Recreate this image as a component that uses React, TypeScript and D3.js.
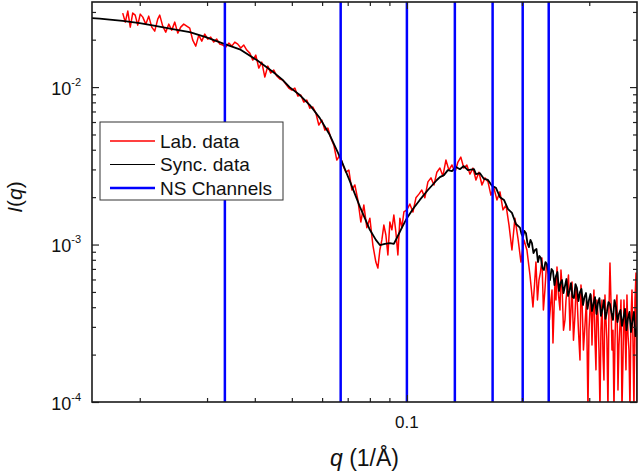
import React, { useEffect, useRef } from 'react';
import * as d3 from 'd3';

// NS channel positions (q, 1/Å)
const channelQ = [0.0334, 0.0671, 0.1, 0.1335, 0.1676, 0.2009, 0.235];

// Lab. data (red): [q, I(q)]
const labData: [number, number][] = [
  [0.01805, 0.0295], [0.01833, 0.02585], [0.01861, 0.03038], [0.01889, 0.02403], [0.01917, 0.0295],
  [0.01946, 0.02864], [0.01976, 0.02474], [0.02006, 0.02906], [0.02037, 0.02782], [0.02074, 0.0251],
  [0.02111, 0.02822], [0.0215, 0.02403], [0.02189, 0.02267], [0.02229, 0.02701], [0.02256, 0.02864],
  [0.02297, 0.02438], [0.02339, 0.02234], [0.02382, 0.0251], [0.02425, 0.023], [0.0247, 0.02585],
  [0.02515, 0.02202], [0.0256, 0.02403], [0.02607, 0.0251], [0.02654, 0.02438], [0.02703, 0.02368],
  [0.02752, 0.01988], [0.02803, 0.01821], [0.02854, 0.02138], [0.02906, 0.01959], [0.02959, 0.02169],
  [0.03013, 0.02017], [0.03067, 0.02076], [0.03123, 0.01931], [0.0318, 0.02017], [0.03239, 0.01875],
  [0.03298, 0.01848], [0.03359, 0.01795], [0.0342, 0.01903], [0.03482, 0.01821], [0.03546, 0.01931],
  [0.0361, 0.01875], [0.03676, 0.01769], [0.03743, 0.01848], [0.03811, 0.01718], [0.03881, 0.01643],
  [0.03952, 0.01484], [0.04024, 0.01596], [0.04097, 0.0132], [0.04172, 0.01441], [0.04249, 0.01158],
  [0.04326, 0.01359], [0.04404, 0.01227], [0.04484, 0.01282], [0.04566, 0.01175], [0.0465, 0.01124],
  [0.04735, 0.01108], [0.04822, 0.01045], [0.04909, 0.00985], [0.05, 0.00957], [0.05091, 0.00985],
  [0.05183, 0.00877], [0.05277, 0.0089], [0.05373, 0.00803], [0.05471, 0.00827], [0.05572, 0.00735],
  [0.05674, 0.00747], [0.05778, 0.00684], [0.05882, 0.00574], [0.0599, 0.00617], [0.061, 0.00533],
  [0.06211, 0.00549], [0.06324, 0.00475], [0.06439, 0.00428], [0.06556, 0.00344], [0.06677, 0.0037],
  [0.06799, 0.0032], [0.06923, 0.00288], [0.07049, 0.00297], [0.07178, 0.00222], [0.07309, 0.00239],
  [0.07442, 0.00192], [0.07577, 0.00139], [0.07715, 0.00178], [0.07855, 0.00128], [0.08, 0.00147],
  [0.08146, 0.000993], [0.08295, 0.000774], [0.08396, 0.000709], [0.08497, 0.000923], [0.08601, 0.00107],
  [0.08704, 0.00133], [0.08811, 0.00115], [0.08918, 0.000858], [0.09025, 0.00139], [0.09135, 0.00124],
  [0.09244, 0.00154], [0.09358, 0.0012], [0.09472, 0.000858], [0.09587, 0.00147], [0.09704, 0.00128],
  [0.0982, 0.00161], [0.1, 0.00166], [0.1018, 0.00181], [0.1037, 0.00161], [0.1056, 0.00198],
  [0.1075, 0.00209], [0.1094, 0.00222], [0.1114, 0.00198], [0.1135, 0.0025], [0.1156, 0.00265],
  [0.1177, 0.00239], [0.1198, 0.00288], [0.122, 0.00306], [0.1242, 0.00272], [0.1265, 0.00344],
  [0.1288, 0.00297], [0.1312, 0.0032], [0.1336, 0.00288], [0.136, 0.00334], [0.1384, 0.00359],
  [0.1409, 0.00306], [0.1435, 0.0032], [0.1462, 0.0028], [0.1489, 0.00306], [0.1516, 0.00257],
  [0.1543, 0.00288], [0.1572, 0.00239], [0.1601, 0.00265], [0.163, 0.0025], [0.1659, 0.00206],
  [0.1689, 0.00229], [0.172, 0.00192], [0.1752, 0.00216], [0.1784, 0.00166], [0.1817, 0.00178],
  [0.185, 0.00133], [0.1883, 0.000923], [0.1917, 0.00147], [0.1952, 0.0011], [0.1988, 0.000774],
  [0.2024, 0.00107], [0.2061, 0.000923], [0.2099, 0.00064], [0.2118, 0.000514], [0.2137, 0.000401],
  [0.2157, 0.000553], [0.2176, 0.000774], [0.2196, 0.000444], [0.2216, 0.000595], [0.2236, 0.000669],
  [0.2256, 0.000821], [0.2276, 0.000384], [0.2297, 0.000514], [0.2318, 0.000741], [0.2339, 0.000689],
  [0.236, 0.000332], [0.2382, 0.000444], [0.2397, 0.000514], [0.2411, 0.000237], [0.2426, 0.000384],
  [0.2441, 0.000595], [0.2455, 0.000444], [0.247, 0.00072], [0.2493, 0.000478], [0.2515, 0.000384],
  [0.253, 0.000689], [0.2546, 0.000553], [0.2569, 0.000286], [0.2592, 0.000332], [0.2608, 0.000444],
  [0.2623, 0.000514], [0.2647, 0.00064], [0.2671, 0.000286], [0.2687, 0.000384], [0.2704, 0.000578],
  [0.2728, 0.000247], [0.2753, 0.000357], [0.277, 0.000529], [0.2786, 0.000478], [0.2811, 0.000286],
  [0.2837, 0.000185], [0.2854, 0.000553], [0.2872, 0.000444], [0.2897, 0.000214], [0.2924, 0.000308],
  [0.295, 0.000444], [0.2977, 0.00009], [0.2995, 0.000286], [0.3013, 0.000384], [0.3031, 0.000478],
  [0.305, 0.00023], [0.3068, 0.000384], [0.3086, 0.000514], [0.3106, 0.000247], [0.3124, 0.00016],
  [0.3142, 0.000444], [0.3162, 0.000357], [0.3181, 0.000214], [0.32, 0.00009], [0.3219, 0.000286],
  [0.3239, 0.000444], [0.3259, 0.000199], [0.3278, 0.000138], [0.3298, 0.000478], [0.3318, 0.000332],
  [0.3337, 0.000247], [0.3358, 0.00009], [0.3378, 0.000384], [0.3399, 0.000763], [0.3419, 0.000444],
  [0.344, 0.000214], [0.3461, 0.000286], [0.3482, 0.00009], [0.3503, 0.000247], [0.3524, 0.000413],
  [0.3545, 0.000478], [0.3567, 0.000119], [0.3588, 0.00023], [0.361, 0.000308], [0.3632, 0.000444],
  [0.3654, 0.00009], [0.3676, 0.000185], [0.3698, 0.000444], [0.3721, 0.000286], [0.3743, 0.00016],
  [0.3765, 0.000478], [0.3789, 0.000266], [0.3811, 0.000214], [0.3834, 0.00009], [0.3857, 0.000332],
  [0.3881, 0.000514], [0.3904, 0.000247], [0.3927, 0.00009], [0.3952, 0.000444], [0.3976, 0.000659],
  [0.4, 0.00009],
];

// Sync. data (black): [q, I(q)]
const syncData: [number, number][] = [
  [0.015, 0.02741], [0.01571, 0.0272], [0.01669, 0.02681], [0.01805, 0.02635], [0.02, 0.02547],
  [0.02215, 0.02438], [0.0244, 0.02334], [0.02703, 0.02234], [0.02977, 0.02076], [0.03298, 0.01894],
  [0.03654, 0.01736], [0.04048, 0.01484], [0.04458, 0.01251], [0.04707, 0.01124], [0.04939, 0.00996],
  [0.05246, 0.0089], [0.05572, 0.00769], [0.05918, 0.00635], [0.06286, 0.00496], [0.06677, 0.00361],
  [0.07091, 0.00253], [0.07532, 0.00174], [0.08, 0.00124], [0.08295, 0.00107], [0.08497, 0.000993],
  [0.08758, 0.00101], [0.09025, 0.00102], [0.09244, 0.00101], [0.09412, 0.0011], [0.09704, 0.00128],
  [0.1, 0.00147], [0.1037, 0.00168], [0.1081, 0.00192], [0.1135, 0.00222], [0.1198, 0.00257],
  [0.122, 0.00268], [0.125, 0.00276], [0.128, 0.00297], [0.1312, 0.00293], [0.1344, 0.00311],
  [0.1376, 0.00301], [0.1409, 0.00315], [0.1444, 0.00297], [0.1498, 0.00301], [0.1516, 0.0028],
  [0.1553, 0.00284], [0.1591, 0.00261], [0.163, 0.00257], [0.1669, 0.00236], [0.171, 0.00229],
  [0.1752, 0.002], [0.1795, 0.00192], [0.1839, 0.00168], [0.1883, 0.00159], [0.1929, 0.00135],
  [0.1976, 0.00128], [0.1994, 0.00117], [0.2012, 0.00112], [0.203, 0.00122], [0.2049, 0.00118],
  [0.2067, 0.00102], [0.2086, 0.000964], [0.2105, 0.00107], [0.2124, 0.00102], [0.2144, 0.000883],
  [0.2163, 0.000923], [0.2183, 0.000937], [0.2203, 0.000774], [0.2222, 0.000846], [0.2242, 0.000821],
  [0.2263, 0.000709], [0.2283, 0.000689], [0.2304, 0.000774], [0.2325, 0.000752], [0.2346, 0.000669],
  [0.2368, 0.000595], [0.239, 0.000699], [0.2411, 0.000679], [0.2433, 0.000553], [0.2455, 0.000631],
  [0.2477, 0.000669], [0.25, 0.000507], [0.2523, 0.000569], [0.2546, 0.000595], [0.2569, 0.000492],
  [0.2592, 0.000545], [0.2615, 0.000604], [0.264, 0.000471], [0.2663, 0.000507], [0.2687, 0.000569],
  [0.2712, 0.000464], [0.2736, 0.000457], [0.2761, 0.000561], [0.2786, 0.000529], [0.2811, 0.000438],
  [0.2837, 0.000499], [0.2863, 0.000522], [0.2889, 0.000413], [0.2915, 0.000464], [0.2942, 0.000492],
  [0.2968, 0.00039], [0.2995, 0.000444], [0.3022, 0.000485], [0.305, 0.000378], [0.3077, 0.000419],
  [0.3106, 0.000464], [0.3133, 0.000362], [0.3162, 0.000425], [0.319, 0.000457], [0.3219, 0.000352],
  [0.3249, 0.00039], [0.3278, 0.000444], [0.3308, 0.000337], [0.3337, 0.000373], [0.3368, 0.000431],
  [0.3399, 0.000419], [0.343, 0.000368], [0.3461, 0.000332], [0.3492, 0.000444], [0.3524, 0.000401],
  [0.3556, 0.000322], [0.3588, 0.000362], [0.3621, 0.000384], [0.3654, 0.000304], [0.3687, 0.000342],
  [0.3721, 0.00039], [0.3754, 0.000286], [0.3789, 0.000342], [0.3822, 0.000373], [0.3857, 0.000278],
  [0.3892, 0.000327], [0.3927, 0.000373], [0.3963, 0.000262], [0.4, 0.000294],
];

// axis ticks
const xMajor = [0.1];
const xMinor = [0.02, 0.03, 0.04, 0.05, 0.06, 0.07, 0.08, 0.09, 0.2, 0.3];
const yMajor = [1e-4, 1e-3, 1e-2];
const yExponents = ['-4', '-3', '-2'];
const yMinor = [
  2e-4, 3e-4, 4e-4, 5e-4, 6e-4, 7e-4, 8e-4, 9e-4,
  2e-3, 3e-3, 4e-3, 5e-3, 6e-3, 7e-3, 8e-3, 9e-3,
  2e-2, 3e-2,
];

const legendItems = [
  { label: 'Lab. data', color: '#ff0000', width: 1.4 },
  { label: 'Sync. data', color: '#000000', width: 1.2 },
  { label: 'NS Channels', color: '#0000ff', width: 2.5 },
];

const W = 640;
const H = 474;
const FONT = 'Liberation Sans, Arial, Helvetica, sans-serif';

const App = () => {
  const svgRef = useRef<SVGSVGElement>(null);

  useEffect(() => {
    const svg = d3.select(svgRef.current);
    svg.selectAll('*').remove();

    const left = 92, right = 637, top = 2, bottom = 402;

    const x = d3.scaleLog().domain([0.015, 0.4]).range([left, right]);
    const y = d3.scaleLog().domain([1e-4, 0.0347]).range([bottom, top]);

    svg.append('defs').append('clipPath').attr('id', 'plot-clip')
      .append('rect')
      .attr('x', left).attr('y', top)
      .attr('width', right - left).attr('height', bottom - top);

    const plot = svg.append('g').attr('clip-path', 'url(#plot-clip)');

    const line = d3.line<[number, number]>()
      .x(d => x(d[0]))
      .y(d => y(Math.max(d[1], 5e-5)));

    plot.append('path')
      .attr('d', line(labData))
      .attr('fill', 'none')
      .attr('stroke', '#ff0000')
      .attr('stroke-width', 1.5)
      .attr('stroke-linejoin', 'round');

    plot.append('path')
      .attr('d', line(syncData))
      .attr('fill', 'none')
      .attr('stroke', '#000')
      .attr('stroke-width', 1.8)
      .attr('stroke-linejoin', 'round');

    // NS channels
    plot.selectAll('.channel')
      .data(channelQ)
      .enter()
      .append('line')
      .attr('class', 'channel')
      .attr('x1', d => x(d)).attr('x2', d => x(d))
      .attr('y1', top).attr('y2', bottom)
      .attr('stroke', '#0000ff')
      .attr('stroke-width', 2.5);

    // Axes (ticks inward on all sides)
    const styleAxis = (g: any) => {
      g.select('.domain').remove();
      g.selectAll('.tick line').attr('stroke', '#222').attr('stroke-width', 1.2);
    };

    const axes = [
      { axis: d3.axisBottom(x), t: `translate(0,${bottom})`, vals: xMajor, size: -7 },
      { axis: d3.axisBottom(x), t: `translate(0,${bottom})`, vals: xMinor, size: -4 },
      { axis: d3.axisTop(x), t: `translate(0,${top})`, vals: xMajor, size: -7 },
      { axis: d3.axisTop(x), t: `translate(0,${top})`, vals: xMinor, size: -4 },
      { axis: d3.axisLeft(y), t: `translate(${left},0)`, vals: yMajor, size: -7 },
      { axis: d3.axisLeft(y), t: `translate(${left},0)`, vals: yMinor, size: -4 },
      { axis: d3.axisRight(y), t: `translate(${right},0)`, vals: yMajor, size: -7 },
      { axis: d3.axisRight(y), t: `translate(${right},0)`, vals: yMinor, size: -4 },
    ];
    axes.forEach(a => {
      svg.append('g')
        .attr('transform', a.t)
        .call(a.axis.tickValues(a.vals).tickSize(a.size).tickSizeOuter(0).tickFormat(() => '') as any)
        .call(styleAxis);
    });

    // Frame
    svg.append('rect')
      .attr('x', left).attr('y', top)
      .attr('width', right - left).attr('height', bottom - top)
      .attr('fill', 'none')
      .attr('stroke', '#1a1a1a')
      .attr('stroke-width', 1.6);

    // X tick labels
    svg.selectAll('.xlabel')
      .data(xMajor)
      .enter()
      .append('text')
      .attr('x', d => x(d))
      .attr('y', 428)
      .attr('text-anchor', 'middle')
      .attr('font-family', FONT)
      .attr('font-size', 17)
      .attr('fill', '#111')
      .text(d => String(d));

    // Y tick labels 10^n
    yMajor.forEach((v, i) => {
      const t = svg.append('text')
        .attr('x', 81)
        .attr('y', y(v) + 7.5)
        .attr('text-anchor', 'end')
        .attr('font-family', FONT)
        .attr('font-size', 18)
        .attr('fill', '#111');
      t.append('tspan').text('10');
      t.append('tspan').attr('dy', -9).attr('font-size', 11).text(yExponents[i]);
    });

    // Axis titles
    const xt = svg.append('text')
      .attr('x', (left + right) / 2)
      .attr('y', 466)
      .attr('text-anchor', 'middle')
      .attr('font-family', FONT)
      .attr('font-size', 23)
      .attr('fill', '#111');
    xt.append('tspan').attr('font-style', 'italic').text('q');
    xt.append('tspan').text(' (1/Å)');

    const yt = svg.append('text')
      .attr('transform', `translate(22,197) rotate(-90)`)
      .attr('text-anchor', 'middle')
      .attr('font-family', FONT)
      .attr('font-size', 21)
      .attr('fill', '#111');
    yt.append('tspan').attr('font-style', 'italic').text('I');
    yt.append('tspan').text('(');
    yt.append('tspan').attr('font-style', 'italic').text('q');
    yt.append('tspan').text(')');

    // Legend
    const lg = svg.append('g');
    lg.append('rect')
      .attr('x', 100).attr('y', 122)
      .attr('width', 183).attr('height', 78)
      .attr('fill', '#fff')
      .attr('stroke', '#333')
      .attr('stroke-width', 1);
    const rowY = [141, 164.5, 188];
    legendItems.forEach((item, i) => {
      lg.append('line')
        .attr('x1', 110).attr('x2', 155)
        .attr('y1', rowY[i]).attr('y2', rowY[i])
        .attr('stroke', item.color)
        .attr('stroke-width', item.width);
      lg.append('text')
        .attr('x', 160)
        .attr('y', rowY[i] + 6.5)
        .attr('font-family', FONT)
        .attr('font-size', 19)
        .attr('fill', '#111')
        .text(item.label);
    });
  }, []);

  return (
    <svg
      ref={svgRef}
      width={W}
      height={H}
      style={{ position: 'absolute', left: 0, top: 0, background: '#fff' }}
    />
  );
};

export default App;
